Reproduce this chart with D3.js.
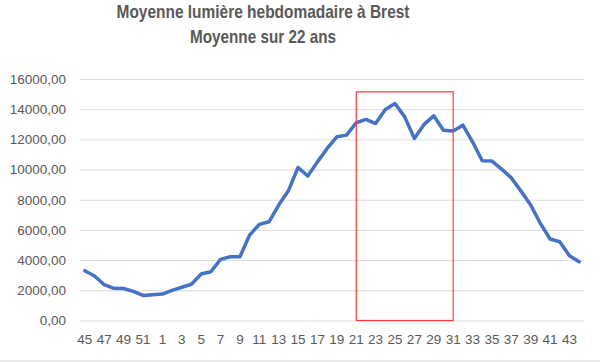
<!DOCTYPE html>
<html>
<head>
<meta charset="utf-8">
<script src="https://cdn.jsdelivr.net/npm/d3@7"></script>
<style>
  html, body { margin: 0; padding: 0; background: #fff; }
  svg { display: block; }
</style>
</head>
<body>
<div id="chart"></div>
<script>
(function() {
    'use strict';

    // data
    var weeks = ['45','46','47','48','49','50','51','52',
                 '1','2','3','4','5','6','7','8','9','10','11','12','13','14','15','16',
                 '17','18','19','20','21','22','23','24','25','26','27','28','29','30',
                 '31','32','33','34','35','36','37','38','39','40','41','42','43','44'];
    var lumiere = [3300, 2950, 2370, 2130, 2120, 1930, 1660, 1700,
                   1750, 2000, 2200, 2400, 3080, 3230, 4050, 4220, 4220, 5660, 6370, 6540, 7650, 8590, 10140, 9570,
                   10510, 11400, 12170, 12280, 13100, 13320, 13050, 13980, 14380, 13490, 12060, 12990, 13560, 12610,
                   12550, 12940, 11840, 10580, 10560, 10030, 9450, 8570, 7650, 6430, 5400, 5220, 4290, 3890];
    var yTicks = [0, 2000, 4000, 6000, 8000, 10000, 12000, 14000, 16000];
    var titleLines = ['Moyenne lumière hebdomadaire à Brest', 'Moyenne sur 22 ans'];
    var highlightWeeks = ['21', '31'];
    var highlightTop = 15150;

    var W = 600, H = 362;
    var svg = d3.select('#chart').append('svg')
                .attr('width', W)
                .attr('height', H);

    var x = d3.scaleBand().domain(weeks).range([80, 584]);
    var y = d3.scaleLinear().domain([0, 16000]).range([320.5, 79]);
    var cx = function(w) { return x(w) + x.bandwidth() / 2; };

    var fr = d3.formatLocale({ decimal: ',', thousands: '', grouping: [3], currency: ['', ''] });
    var fmt = fr.format('.2f');

    // title
    svg.append('g').selectAll('text')
        .data(titleLines)
        .enter().append('text')
        .attr('x', 263)
        .attr('y', function(d, i) { return 18 + i * 24.5; })
        .attr('text-anchor', 'middle')
        .style('font-family', '"Liberation Sans", Arial, sans-serif')
        .style('font-weight', 'bold')
        .style('font-size', '18.5px')
        .style('fill', '#595959')
        .text(function(d) { return d; })
        .each(function(d, i) {
            // Calibri is narrower, squeeze to the reference width
            var target = i === 0 ? 293 : 146;
            if (this.getComputedTextLength() > target) {
                d3.select(this).attr('textLength', target).attr('lengthAdjust', 'spacingAndGlyphs');
            }
        });

    // grid + y axis
    var yAxis = d3.axisLeft(y)
                  .tickValues(yTicks)
                  .tickSize(-(584 - 80))
                  .tickPadding(14)
                  .tickFormat(fmt);
    var gy = svg.append('g')
                .attr('transform', 'translate(80,0)')
                .call(yAxis);
    gy.select('.domain').remove();
    gy.selectAll('.tick line').attr('stroke', '#d9d9d9').attr('stroke-width', 1);
    gy.selectAll('.tick text')
        .style('font-family', '"Liberation Sans", Arial, sans-serif')
        .style('font-size', '13.5px')
        .style('fill', '#595959');

    // x axis
    var xAxis = d3.axisBottom(x)
                  .tickValues(weeks.filter(function(d, i) { return i % 2 === 0; }))
                  .tickSize(0)
                  .tickPadding(14);
    var gx = svg.append('g')
                .attr('transform', 'translate(0,320.5)')
                .call(xAxis);
    gx.select('.domain').remove();
    gx.selectAll('.tick text')
        .style('font-family', '"Liberation Sans", Arial, sans-serif')
        .style('font-size', '13.5px')
        .style('fill', '#595959');

    // line
    var line = d3.line()
                 .x(function(d, i) { return cx(weeks[i]); })
                 .y(function(d) { return y(d); });
    svg.append('path')
        .datum(lumiere)
        .attr('d', line)
        .attr('fill', 'none')
        .attr('stroke', '#4472c4')
        .attr('stroke-width', 3.5)
        .attr('stroke-linejoin', 'round')
        .attr('stroke-linecap', 'round');

    // highlight box
    svg.append('rect')
        .attr('x', cx(highlightWeeks[0]))
        .attr('y', y(highlightTop))
        .attr('width', cx(highlightWeeks[1]) - cx(highlightWeeks[0]))
        .attr('height', y(0) - y(highlightTop))
        .attr('fill', 'none')
        .attr('stroke', '#ff3b3b')
        .attr('stroke-width', 1.2);

    // bottom border
    svg.append('rect')
        .attr('x', 0).attr('y', 360)
        .attr('width', W).attr('height', 2)
        .attr('fill', '#ebebeb');
})();
</script>
</body>
</html>
